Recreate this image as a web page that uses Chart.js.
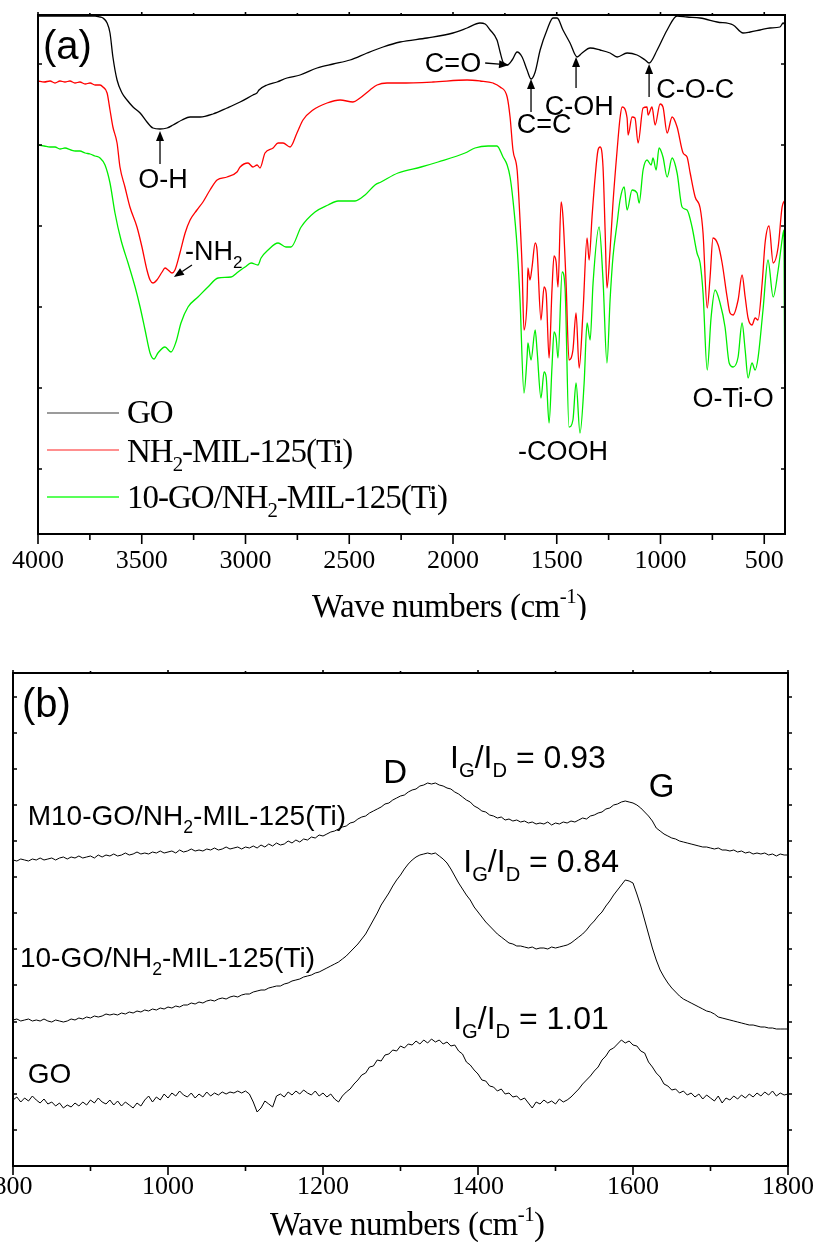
<!DOCTYPE html>
<html>
<head>
<meta charset="utf-8">
<script src="https://cdn.jsdelivr.net/npm/chart.js@4.4.1/dist/chart.umd.min.js"></script>
<style>
  html, body { margin: 0; padding: 0; background: #fff; }
  #wrap { position: relative; width: 819px; height: 1242px; }
  canvas { position: absolute; left: 0; }
  #ftir { top: 0; }
  #raman { top: 620px; }
</style>
</head>
<body>
<div id="wrap">
  <canvas id="ftir" width="819" height="620"></canvas>
  <canvas id="raman" width="819" height="622"></canvas>
</div>
<script>
// ---- (a) FTIR spectra: [wave number, transmittance (a.u.)] ----
const ftirGo = [
  [4000,518],[3900,518],[3800,518],[3725,518],[3701,517],[3687,516],[3667,511],[3653,501],[3639,477],[3619,454],
  [3595,441],[3571,434],[3542,427],[3508,421],[3475,412],[3446,406],[3412,405],[3378,406],[3349,409],[3306,414],
  [3267,417],[3219,417],[3157,420],[3089,426],[3026,432],[2964,439],[2945,441],[2935,444],[2896,449],[2848,452],
  [2800,456],[2737,459],[2655,466],[2578,470],[2496,474],[2414,481],[2337,487],[2255,492],[2125,496],[2000,501],
  [1932,506],[1870,511],[1845,510],[1821,504],[1788,494],[1773,482],[1759,472],[1739,469],[1715,474],[1691,482],
  [1667,477],[1643,464],[1624,455],[1604,462],[1580,484],[1547,504],[1518,516],[1498,516],[1470,504],[1436,491],
  [1402,477],[1378,481],[1339,486],[1291,484],[1243,481],[1209,477],[1161,481],[1113,479],[1074,474],[1055,471],
  [1016,484],[968,504],[920,518],[872,517],[809,516],[727,512],[650,509],[602,501],[568,502],[520,504],
  [472,506],[424,507],[409,511],[400,509]
];
const ftirMil = [
  [4000,453],[3970,452],[3942,453],[3918,451],[3894,453],[3870,452],[3846,453],[3822,451],[3798,452],[3773,450],
  [3749,451],[3725,449],[3701,449],[3687,447],[3667,441],[3653,424],[3639,407],[3619,391],[3605,367],[3581,347],
  [3557,327],[3523,307],[3499,287],[3475,264],[3460,254],[3446,251],[3427,254],[3402,262],[3388,266],[3373,264],
  [3354,261],[3340,264],[3316,281],[3291,301],[3267,314],[3234,324],[3205,332],[3171,344],[3137,354],[3089,357],
  [3041,362],[3026,367],[2988,371],[2964,367],[2944,369],[2930,366],[2906,381],[2867,386],[2843,391],[2819,391],
  [2785,387],[2752,401],[2723,414],[2675,424],[2607,431],[2544,434],[2482,432],[2448,436],[2400,444],[2366,449],
  [2318,451],[2255,451],[2096,452],[1932,454],[1870,453],[1807,451],[1773,447],[1739,437],[1725,417],[1711,384],
  [1691,364],[1682,334],[1667,267],[1658,204],[1643,234],[1639,266],[1629,254],[1619,267],[1604,291],[1595,284],
  [1576,214],[1561,247],[1551,241],[1537,176],[1523,244],[1513,278],[1503,272],[1494,247],[1479,332],[1470,317],
  [1455,251],[1441,174],[1422,184],[1407,221],[1392,166],[1373,224],[1354,296],[1344,274],[1330,317],[1315,357],
  [1301,384],[1291,387],[1277,367],[1267,304],[1258,246],[1243,284],[1229,331],[1209,384],[1195,416],[1185,427],
  [1161,416],[1156,399],[1137,417],[1123,416],[1108,391],[1084,426],[1065,427],[1060,419],[1041,427],[1026,409],
  [1002,430],[988,427],[968,401],[944,417],[920,407],[891,381],[872,377],[857,361],[833,337],[809,326],
  [795,301],[775,226],[761,257],[747,296],[722,289],[703,271],[679,237],[665,221],[650,219],[626,234],
  [607,259],[592,237],[578,216],[559,209],[544,216],[530,214],[510,251],[496,291],[477,308],[457,271],
  [433,287],[414,327],[400,334]
];
const ftirComposite = [
  [4000,389],[3970,388],[3942,387],[3918,387],[3894,385],[3870,386],[3841,384],[3820,383],[3798,383],[3773,381],
  [3749,380],[3725,378],[3701,376],[3677,369],[3653,351],[3629,321],[3600,294],[3566,271],[3532,247],[3508,227],
  [3484,204],[3460,181],[3441,175],[3422,181],[3388,187],[3359,182],[3335,192],[3311,211],[3277,227],[3229,237],
  [3181,247],[3132,256],[3070,257],[3036,262],[3002,267],[2973,271],[2940,269],[2925,276],[2891,284],[2843,291],
  [2805,287],[2781,287],[2732,307],[2665,322],[2602,329],[2554,333],[2472,333],[2424,339],[2376,349],[2347,352],
  [2265,361],[2154,367],[2072,372],[1942,381],[1894,386],[1831,388],[1788,388],[1759,377],[1739,369],[1725,357],
  [1711,334],[1691,287],[1677,234],[1658,141],[1643,177],[1639,191],[1624,174],[1604,204],[1595,184],[1576,136],
  [1561,162],[1551,157],[1537,111],[1523,167],[1513,202],[1503,196],[1494,176],[1474,262],[1460,246],[1441,107],
  [1422,114],[1407,151],[1388,101],[1368,151],[1354,211],[1339,194],[1325,251],[1296,307],[1277,254],[1258,171],
  [1243,234],[1229,277],[1209,311],[1195,334],[1175,347],[1161,324],[1137,344],[1113,341],[1103,331],[1084,364],
  [1065,374],[1045,369],[1036,376],[1021,364],[1007,386],[988,377],[968,357],[944,376],[920,361],[896,327],
  [872,324],[848,307],[824,281],[809,271],[795,241],[775,164],[756,217],[737,244],[713,231],[689,207],
  [669,171],[650,167],[626,177],[607,211],[592,184],[578,156],[559,171],[544,164],[530,176],[506,224],
  [482,274],[457,237],[433,264],[409,301],[405,304],[400,67]
];
const ftirMajor = [4000, 3500, 3000, 2500, 2000, 1500, 1000, 500];
const ftirMinor = [3750, 3250, 2750, 2250, 1750, 1250, 750];
const ftirLevels = [65, 146, 227, 308, 389, 470];

// ---- (b) Raman spectra: intensity (a.u.) at each Raman shift ----
const ramanShift = [
  800,805,810,815,820,825,830,835,840,845,850,855,860,865,870,875,880,885,890,895,
  900,905,910,915,920,925,930,935,940,945,950,955,960,965,970,975,980,985,990,995,
  1000,1005,1010,1015,1020,1025,1030,1035,1040,1045,1050,1055,1060,1065,1070,1075,1080,1085,1090,1095,
  1100,1105,1110,1115,1120,1125,1130,1135,1140,1145,1150,1155,1160,1165,1170,1175,1180,1185,1190,1195,
  1200,1205,1210,1215,1220,1225,1230,1235,1240,1245,1250,1255,1260,1265,1270,1275,1280,1285,1290,1295,
  1300,1305,1310,1315,1320,1325,1330,1335,1340,1345,1350,1355,1360,1365,1370,1375,1380,1385,1390,1395,
  1400,1405,1410,1415,1420,1425,1430,1435,1440,1445,1450,1455,1460,1465,1470,1475,1480,1485,1490,1495,
  1500,1505,1510,1515,1520,1525,1530,1535,1540,1545,1550,1555,1560,1565,1570,1575,1580,1585,1590,1595,
  1600,1605,1610,1615,1620,1625,1630,1635,1640,1645,1650,1655,1660,1665,1670,1675,1680,1685,1690,1695,
  1700,1705,1710,1715,1720,1725,1730,1735,1740,1745,1750,1755,1760,1765,1770,1775,1780,1785,1790,1795,
  1800
];
const ramanM10 = [
  306,305,307,306,305,307,306,308,306,307,308,306,308,309,307,309,308,310,308,309,
  310,308,311,309,311,310,312,310,311,313,311,312,314,312,313,312,314,313,315,313,
  314,315,313,316,314,315,317,315,316,315,317,316,318,316,317,319,317,318,319,317,
  319,318,320,318,321,319,322,320,323,321,322,325,323,326,324,327,326,329,328,331,
  330,332,334,335,337,339,340,343,344,347,349,350,353,355,357,359,362,363,366,368,
  370,371,374,376,377,380,381,383,382,383,381,380,378,377,374,372,369,366,364,360,
  358,355,354,351,350,348,349,346,347,345,346,344,345,343,344,342,343,342,344,341,
  343,342,344,343,345,344,346,348,347,350,351,353,354,357,358,361,362,364,365,364,
  363,361,358,354,350,345,338,335,332,330,328,327,325,324,323,322,321,320,319,319,
  318,317,318,316,316,315,316,314,315,313,314,312,313,312,313,311,312,310,312,311,
  311
];
const ramanComposite = [
  146,147,145,146,147,145,146,145,147,145,144,146,145,144,145,147,146,148,147,149,
  148,150,149,150,152,151,152,151,153,152,154,153,155,154,156,155,157,156,158,157,
  159,158,160,159,161,161,163,162,164,163,165,166,165,167,168,167,169,170,169,171,
  172,172,174,175,176,176,178,179,180,180,182,183,185,186,187,189,190,191,193,194,
  196,198,200,202,204,207,210,214,218,222,227,232,239,246,253,261,267,273,280,286,
  291,297,302,306,309,311,312,313,312,313,310,307,303,297,290,283,277,271,266,259,
  254,249,244,240,236,232,229,226,223,222,220,220,219,218,219,217,218,218,217,219,
  218,219,220,221,223,226,229,232,236,241,245,250,254,260,265,271,276,281,286,285,
  283,272,260,246,232,218,206,196,189,183,178,174,170,167,165,163,161,159,157,155,
  154,152,149,148,147,146,145,144,143,142,141,141,140,139,139,138,138,137,137,137,
  137
];
const ramanGo = [
  66,69,64,68,65,70,66,63,67,62,64,60,63,58,61,59,63,60,64,61,
  66,63,68,64,62,66,61,65,60,64,61,58,63,60,66,70,64,69,66,72,
  68,73,70,75,71,69,73,68,72,69,74,70,73,71,74,72,74,73,75,73,
  75,72,64,54,58,65,62,59,70,72,69,74,71,75,72,76,73,71,75,70,
  73,69,72,67,64,70,74,77,82,86,91,93,99,100,106,105,111,112,116,115,
  120,118,122,121,125,122,126,123,127,124,126,122,124,120,121,115,112,104,101,96,
  92,86,85,80,79,75,77,72,73,69,70,66,68,63,58,64,62,66,63,65,
  62,67,64,66,69,73,77,82,86,90,95,99,106,110,116,118,122,126,123,125,
  121,120,115,113,104,99,93,89,82,80,76,77,73,75,71,73,69,72,67,71,
  68,65,70,63,68,66,70,67,71,68,72,69,73,70,74,71,75,70,73,71,
  72
];
const ramanMajor = [800, 1000, 1200, 1400, 1600, 1800];
const ramanMinor = [900, 1100, 1300, 1500, 1700];
const ramanLevels = [36, 72, 108, 144, 181, 217, 253, 289, 325, 361, 397, 433, 469];

const SANS = '"Liberation Sans", Arial, sans-serif';
const SERIF = '"Liberation Serif", "Times New Roman", serif';

// draws text made of pieces, some of them sub- or superscript; y is the baseline
function rich(ctx, parts, x, y, size, family, align, spacing) {
  ctx.letterSpacing = spacing || '0px';
  const items = parts.map(([t, mode]) => {
    const s = mode ? size * 0.63 : size;
    ctx.font = s + 'px ' + family;
    return { t, mode, s, w: ctx.measureText(t).width };
  });
  const total = items.reduce((sum, it) => sum + it.w, 0);
  let cx = align === 'center' ? x - total / 2 : x;
  ctx.textAlign = 'left';
  ctx.textBaseline = 'alphabetic';
  items.forEach(it => {
    ctx.font = it.s + 'px ' + family;
    const dy = it.mode === 'sub' ? size * 0.28 : it.mode === 'sup' ? -size * 0.42 : 0;
    ctx.fillText(it.t, cx, y + dy);
    cx += it.w;
  });
  ctx.letterSpacing = '0px';
}

function arrow(ctx, x1, y1, x2, y2) {
  const ang = Math.atan2(y2 - y1, x2 - x1);
  const hl = 10, hw = 4;
  ctx.beginPath();
  ctx.moveTo(x1, y1);
  ctx.lineTo(x2 - hl * Math.cos(ang), y2 - hl * Math.sin(ang));
  ctx.lineWidth = 1.3;
  ctx.stroke();
  ctx.beginPath();
  ctx.moveTo(x2, y2);
  ctx.lineTo(x2 - hl * Math.cos(ang) + hw * Math.sin(ang), y2 - hl * Math.sin(ang) - hw * Math.cos(ang));
  ctx.lineTo(x2 - hl * Math.cos(ang) - hw * Math.sin(ang), y2 - hl * Math.sin(ang) + hw * Math.cos(ang));
  ctx.closePath();
  ctx.fill();
}

// box round the plot plus all tick marks, placed through the chart's scales
function drawFrame(chart, major, minor, levels, len) {
  const { ctx, chartArea: a, scales: { x, y } } = chart;
  ctx.save();
  ctx.strokeStyle = '#000';
  ctx.lineWidth = 1.6;
  ctx.beginPath();
  major.forEach(v => {
    const px = x.getPixelForValue(v);
    ctx.moveTo(px, a.bottom); ctx.lineTo(px, a.bottom + len.major);
    ctx.moveTo(px, a.top); ctx.lineTo(px, a.top - 3);
  });
  minor.forEach(v => {
    const px = x.getPixelForValue(v);
    ctx.moveTo(px, a.bottom); ctx.lineTo(px, a.bottom + len.minor);
    ctx.moveTo(px, a.top); ctx.lineTo(px, a.top - 2);
  });
  levels.forEach(v => {
    const py = y.getPixelForValue(v);
    ctx.moveTo(a.left, py); ctx.lineTo(a.left + 4, py);
    ctx.moveTo(a.right, py); ctx.lineTo(a.right + len.right, py);
  });
  ctx.stroke();
  ctx.lineWidth = 2;
  ctx.strokeRect(a.left, a.top, a.right - a.left, a.bottom - a.top);
  ctx.restore();
}

const toXY = arr => arr.map(p => ({ x: p[0], y: p[1] }));
const onShift = vals => vals.map((v, i) => ({ x: ramanShift[i], y: v }));

const ftirNotes = [
  { parts: [['C=O']], wn: 2000, v: 462, align: 'center' },
  { parts: [['C=C']], wn: 1561, v: 401, align: 'center' },
  { parts: [['C-OH']], wn: 1392, v: 419, align: 'center' },
  { parts: [['C-O-C']], wn: 833, v: 436, align: 'center' },
  { parts: [['O-H']], wn: 3398, v: 346, align: 'center' },
  { parts: [['-NH'], ['2', 'sub']], wn: 3291, v: 274, align: 'left' },
  { parts: [['-COOH']], wn: 1470, v: 74, align: 'center' },
  { parts: [['O-Ti-O']], wn: 650, v: 127, align: 'center' }
];
const ftirArrows = [
  [1845, 471, 1730, 469],
  [1624, 422, 1624, 455],
  [1407, 446, 1407, 477],
  [1055, 437, 1055, 470],
  [3412, 370, 3412, 403],
  [3258, 269, 3345, 257]
];
const ftirLegend = [
  { parts: [['GO']], color: '#7a7a7a', line: 398, base: 408 },
  { parts: [['NH'], ['2', 'sub'], ['-MIL-125(Ti)']], color: '#ff6a6a', line: 435, base: 447 },
  { parts: [['10-GO/NH'], ['2', 'sub'], ['-MIL-125(Ti)']], color: '#22ff22', line: 482, base: 493 }
];

const ftirDeco = {
  id: 'ftirDeco',
  afterDraw(chart) {
    const { ctx, chartArea: a, scales: { x, y } } = chart;
    drawFrame(chart, ftirMajor, ftirMinor, ftirLevels, { major: 10, minor: 6, right: -4 });
    ctx.save();
    ctx.fillStyle = '#000';
    ctx.strokeStyle = '#000';
    rich(ctx, [['(a)']], a.left + 5, a.top + 44, 40, SANS, 'left');
    ftirNotes.forEach(n => rich(ctx, n.parts, x.getPixelForValue(n.wn), y.getPixelForValue(n.v), 27, SANS, n.align));
    ftirArrows.forEach(r => arrow(ctx, x.getPixelForValue(r[0]), y.getPixelForValue(r[1]),
                                       x.getPixelForValue(r[2]), y.getPixelForValue(r[3])));
    ftirLegend.forEach(l => {
      ctx.strokeStyle = l.color;
      ctx.lineWidth = 1.5;
      ctx.beginPath();
      ctx.moveTo(a.left + 9, a.top + l.line);
      ctx.lineTo(a.left + 81, a.top + l.line);
      ctx.stroke();
      rich(ctx, l.parts, a.left + 89, a.top + l.base, 33, SERIF, 'left', '-1px');
    });
    rich(ctx, [['Wave numbers (cm'], ['-1', 'sup'], [')']], a.left + 274, a.bottom + 83, 33, SERIF, 'left', '-0.5px');
    ctx.restore();
  }
};

const ramanNotes = [
  { parts: [['M10-GO/NH'], ['2', 'sub'], ['-MIL-125(Ti)']], wn: 819, v: 341, size: 28, align: 'left' },
  { parts: [['10-GO/NH'], ['2', 'sub'], ['-MIL-125(Ti)']], wn: 809, v: 199, size: 28, align: 'left' },
  { parts: [['GO']], wn: 819, v: 83, size: 28, align: 'left' },
  { parts: [['D']], wn: 1293, v: 383, size: 33, align: 'center' },
  { parts: [['G']], wn: 1637, v: 369, size: 33, align: 'center' },
  { parts: [['I'], ['G', 'sub'], ['/I'], ['D', 'sub'], [' = 0.93']], wn: 1364, v: 398, size: 32, align: 'left' },
  { parts: [['I'], ['G', 'sub'], ['/I'], ['D', 'sub'], [' = 0.84']], wn: 1381, v: 294, size: 32, align: 'left' },
  { parts: [['I'], ['G', 'sub'], ['/I'], ['D', 'sub'], [' = 1.01']], wn: 1368, v: 137, size: 32, align: 'left' }
];

const ramanDeco = {
  id: 'ramanDeco',
  afterDraw(chart) {
    const { ctx, chartArea: a, scales: { x, y } } = chart;
    drawFrame(chart, ramanMajor, ramanMinor, ramanLevels, { major: 9, minor: 5, right: 4 });
    ctx.save();
    ctx.fillStyle = '#000';
    rich(ctx, [['(b)']], a.left + 9, a.top + 44, 40, SANS, 'left');
    ramanNotes.forEach(n => rich(ctx, n.parts, x.getPixelForValue(n.wn), y.getPixelForValue(n.v), n.size, SANS, n.align));
    rich(ctx, [['Wave numbers (cm'], ['-1', 'sup'], [')']], a.left + 257, a.bottom + 69, 33, SERIF, 'left', '-0.5px');
    ctx.restore();
  }
};

function xAxis(min, max, reverse, major, height, pad) {
  return {
    type: 'linear', min, max, reverse,
    afterBuildTicks: s => { s.ticks = major.map(v => ({ value: v })); },
    afterFit: s => { s.height = height; s.paddingLeft = 0; s.paddingRight = 0; },
    grid: { display: false, drawTicks: false },
    border: { display: false },
    ticks: {
      color: '#000', padding: pad, maxRotation: 0, autoSkip: false,
      font: { family: SERIF, size: 26 },
      callback: v => String(v)
    }
  };
}
function yAxis(max, width) {
  return {
    min: 0, max,
    afterFit: s => { s.width = width; },
    ticks: { display: false },
    grid: { display: false, drawTicks: false },
    border: { display: false }
  };
}

new Chart(document.getElementById('ftir'), {
  type: 'line',
  data: {
    datasets: [
      { label: 'GO', data: toXY(ftirGo), borderColor: '#000000' },
      { label: 'NH2-MIL-125(Ti)', data: toXY(ftirMil), borderColor: '#ff0000' },
      { label: '10-GO/NH2-MIL-125(Ti)', data: toXY(ftirComposite), borderColor: '#00ee00' }
    ]
  },
  options: {
    responsive: false, animation: false, devicePixelRatio: 1,
    layout: { padding: { left: 0, right: 34, top: 15, bottom: 0 } },
    elements: { point: { radius: 0 }, line: { borderWidth: 1.3, cubicInterpolationMode: 'monotone' } },
    plugins: { legend: { display: false }, tooltip: { enabled: false } },
    scales: { x: xAxis(400, 4000, true, ftirMajor, 86, 12), y: yAxis(519, 38) }
  },
  plugins: [ftirDeco]
});

new Chart(document.getElementById('raman'), {
  type: 'line',
  data: {
    datasets: [
      { label: 'M10-GO/NH2-MIL-125(Ti)', data: onShift(ramanM10), borderColor: '#000000' },
      { label: '10-GO/NH2-MIL-125(Ti)', data: onShift(ramanComposite), borderColor: '#000000' },
      { label: 'GO', data: onShift(ramanGo), borderColor: '#000000' }
    ]
  },
  options: {
    responsive: false, animation: false, devicePixelRatio: 1,
    layout: { padding: { left: 0, right: 31, top: 53, bottom: 0 } },
    elements: { point: { radius: 0 }, line: { borderWidth: 1, tension: 0 } },
    plugins: { legend: { display: false }, tooltip: { enabled: false } },
    scales: { x: xAxis(800, 1800, false, ramanMajor, 76, 6), y: yAxis(493, 13) }
  },
  plugins: [ramanDeco]
});
</script>
</body>
</html>
